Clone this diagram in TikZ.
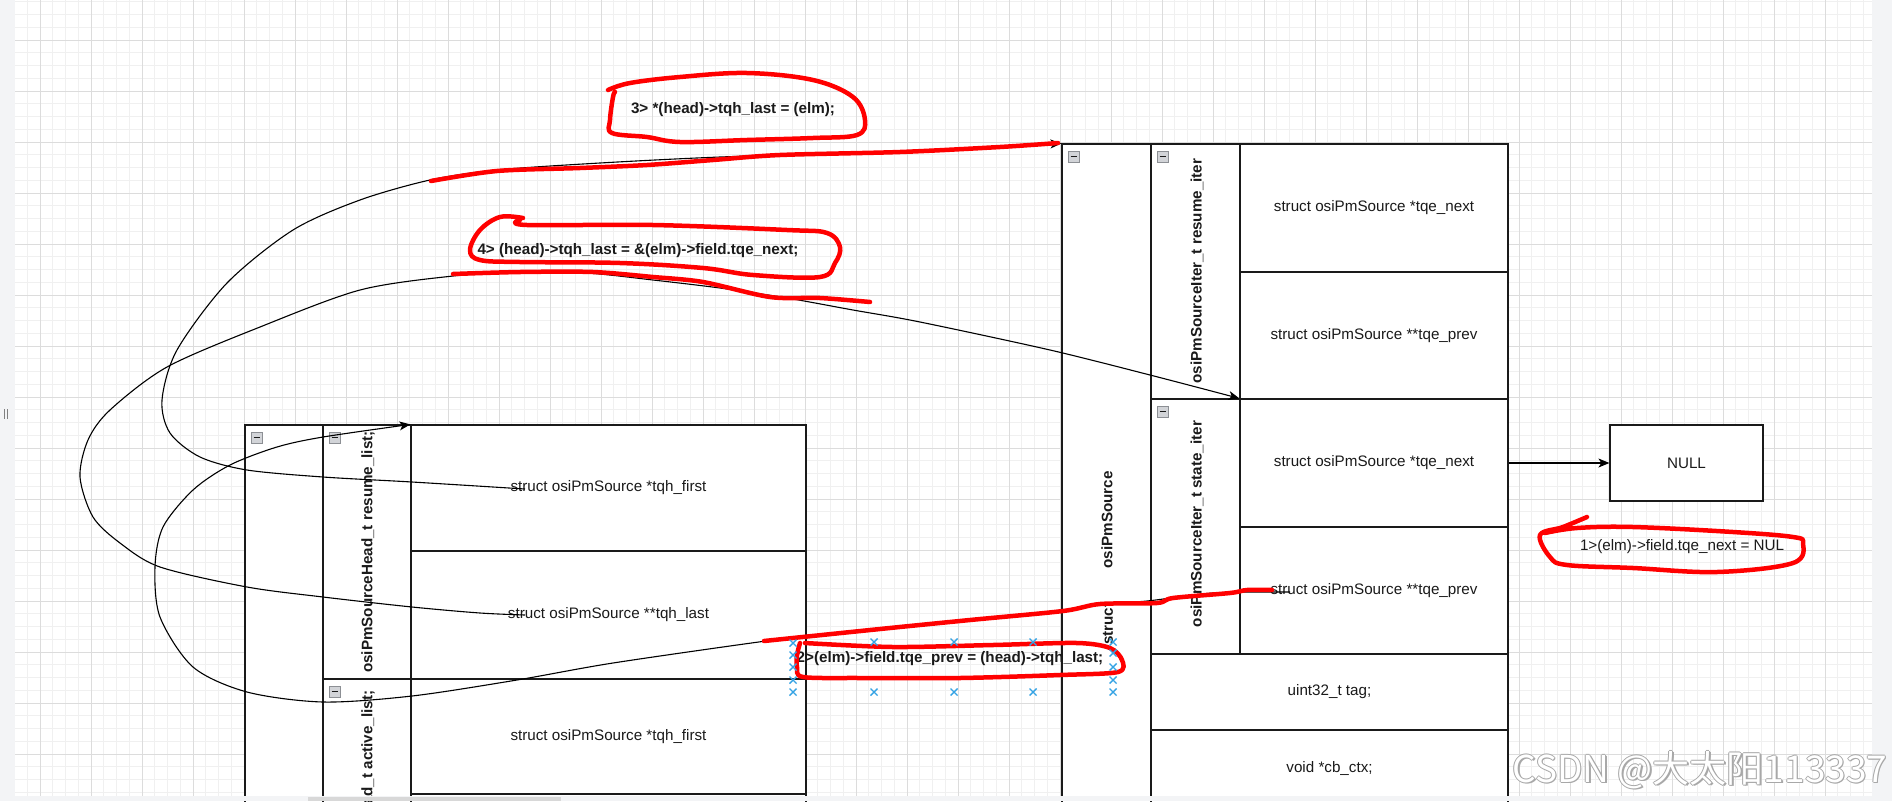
\documentclass[tikz,border=0pt]{standalone}
\usepackage{fontspec}
\setmainfont{Liberation Sans}
\newfontfamily\cjkfont{Noto Sans CJK SC}
\usetikzlibrary{arrows.meta}
\definecolor{gridminor}{HTML}{F0F0F0}
\definecolor{gridmajor}{HTML}{DCDCDC}
\definecolor{ink}{HTML}{1A1A1A}
\definecolor{selblue}{HTML}{35A3E4}
\definecolor{uibg}{HTML}{F3F4F6}
\definecolor{iconfill}{HTML}{D2D4D8}
\definecolor{iconline}{HTML}{8C8F94}
\definecolor{scrollbar}{HTML}{D8D8D8}
\definecolor{wmedge}{HTML}{A8A8A8}
\newcommand\dsz{\fontsize{15.2pt}{18pt}\selectfont}
\tikzset{
  cellbox/.style={draw=ink, fill=white, line width=1.2pt, inner sep=0pt, font=\dsz, text=ink},
  vlabel/.style={rotate=90, inner sep=0pt, font=\dsz\bfseries, text=ink},
  notetext/.style={inner sep=0pt, font=\dsz\bfseries, text=ink},
  plainnote/.style={inner sep=0pt, font=\dsz, text=ink},
  conn/.style={draw=black, line width=1.1pt, -{Stealth[length=11pt,width=9pt,inset=3pt]}},
  redmark/.style={draw=red, line width=4.5pt, line cap=round, line join=round},
  minusicon/.style={draw=iconline, fill=iconfill, line width=0.8pt, minimum size=11pt, inner sep=0pt,
     path picture={\draw[ink, line width=1.8pt] ([xshift=2.5pt]path picture bounding box.west) -- ([xshift=-2.5pt]path picture bounding box.east);}},
  selx/.pic={\draw[selblue, line width=1.4pt] (-3.5,-3.5) -- (3.5,3.5) (-3.5,3.5) -- (3.5,-3.5);},
  wmark/.style={inner sep=0pt, font=\cjkfont\fontsize{37pt}{40pt}\selectfont}
}
\begin{document}
\begin{tikzpicture}[x=1pt, y=-1pt]
\useasboundingbox (0,0) rectangle (1892,801);
\clip (0,0) rectangle (1892,801);
\fill[white] (0,0) rectangle (1892,801);
% grid
\foreach \i in {-1,...,143} \draw[gridminor, line width=0.8pt] ({40+12.75*\i},0) -- ({40+12.75*\i},796);
\foreach \j in {-3,...,59} \draw[gridminor, line width=0.8pt] (15,{40+12.75*\j}) -- (1872,{40+12.75*\j});
\foreach \i in {0,...,35} \draw[gridmajor, line width=0.9pt] ({40+51*\i},0) -- ({40+51*\i},796);
\foreach \j in {0,...,14} \draw[gridmajor, line width=0.9pt] (15,{40+51*\j}) -- (1872,{40+51*\j});

% ---------- left struct ----------
\node[cellbox, minimum width=561pt, minimum height=600pt] (lcont) at (525.5,725) {};
\node[cellbox, minimum width=483pt, minimum height=254pt] (lresume) at (564.5,552) {};
\node[cellbox, minimum width=395pt, minimum height=126pt] (lr1) at (608.5,488) {struct osiPmSource *tqh\_first};
\node[cellbox, minimum width=395pt, minimum height=128pt] (lr2) at (608.5,615) {struct osiPmSource **tqh\_last};
\node[cellbox, minimum width=483pt, minimum height=254pt] (lactive) at (564.5,806) {};
\node[cellbox, minimum width=395pt, minimum height=115pt] (la1) at (608.5,736.5) {struct osiPmSource *tqh\_first};
\node[cellbox, minimum width=395pt, minimum height=128pt] (la2) at (608.5,858) {};
\node[vlabel] (llbl1) at (368,552) {osiPmSourceHead\_t resume\_list;};
\node[vlabel] (llbl2) at (368,806) {osiPmSourceHead\_t active\_list;};
\node[minusicon] (li1) at (256.5,437.5) {};
\node[minusicon] (li2) at (334.5,437.5) {};
\node[minusicon] (li3) at (334.5,691.5) {};

% ---------- right struct ----------
\node[cellbox, minimum width=446pt, minimum height=760pt] (rcont) at (1285,524) {};
\node[cellbox, minimum width=357pt, minimum height=255pt] (rresume) at (1329.5,271.5) {};
\node[cellbox, minimum width=268pt, minimum height=128pt] (rr1) at (1374,208) {struct osiPmSource *tqe\_next};
\node[cellbox, minimum width=268pt, minimum height=127pt] (rr2) at (1374,335.5) {struct osiPmSource **tqe\_prev};
\node[cellbox, minimum width=357pt, minimum height=255pt] (rstate) at (1329.5,526.5) {};
\node[cellbox, minimum width=268pt, minimum height=128pt] (rs1) at (1374,463) {struct osiPmSource *tqe\_next};
\node[cellbox, minimum width=268pt, minimum height=127pt] (rs2) at (1374,590.5) {struct osiPmSource **tqe\_prev};
\node[cellbox, minimum width=357pt, minimum height=76pt] (rtag) at (1329.5,692) {uint32\_t tag;};
\node[cellbox, minimum width=357pt, minimum height=76pt] (rctx) at (1329.5,768) {void *cb\_ctx;};
\node[vlabel] (rlbl0) at (1107,520) {osiPmSource};
\node[vlabel, anchor=west] (rlbls) at (1108,645) {struct};
\node[vlabel] (rlbl1) at (1197,271) {osiPmSourceIter\_t resume\_iter};
\node[vlabel] (rlbl2) at (1197,524) {osiPmSourceIter\_t state\_iter};
\node[minusicon] (ri1) at (1073.5,156.5) {};
\node[minusicon] (ri2) at (1162.5,156.5) {};
\node[minusicon] (ri3) at (1162.5,411.5) {};

% NULL box
\node[cellbox, minimum width=153pt, minimum height=76pt] (nullbox) at (1686.5,463) {NULL};

% notes
\node[notetext] (n3) at (733,110) {3> *(head)->tqh\_last = (elm);};
\node[notetext] (n4) at (638,251) {4> (head)->tqh\_last = \&(elm)->field.tqe\_next;};
\node[notetext] (n2) at (950,659) {2>(elm)->field.tqe\_prev = (head)->tqh\_last;};
\node[plainnote] (n1) at (1682,547) {1>(elm)->field.tqe\_next = NUL};

% connector start points
\coordinate (a0) at (525,489);
\coordinate (b0) at (525,615);
\coordinate (c0) at (1290,592);

% connectors
\draw[conn] plot[smooth, tension=0.5] coordinates {(a0) (412,482) (323,477) (247,470) (200,457) (170,433) (162,400) (177,350) (227,283) (293,230) (360,200) (430,180) (497,170) (600,163) (720,157) (900,151) (rcont.north west)};
\draw[conn] plot[smooth, tension=0.5] coordinates {(b0) (480,613) (412,607) (323,597) (247,587) (160,567) (120,543) (93,517) (80,477) (88,440) (110,410) (167,367) (260,327) (360,290) (453,276) (520,272) (587,273) (653,280) (720,288) (787,298) (853,310) (920,322) (1050,350) (1150,375) (rs1.north west)};
\draw[conn] plot[smooth, tension=0.5] coordinates {(c0) (1213,593) (1147,601) (1100,604) (1063,610) (980,619) (880,630) (807,637) (766,641) (613,663) (517,680) (412,696) (323,702) (247,692) (193,667) (160,617) (155,567) (163,527) (193,490) (230,465) (277,447) (323,437) (lr1.north west)};
\draw[conn] (rs1.east) -- (nullbox.west);

% red hand marks
\draw[redmark] plot[smooth, tension=0.6] coordinates {(608,90) (630,83) (680,77) (747,73) (813,80) (853,97) (865,120) (857,135) (813,138) (747,140) (680,142) (647,137) (612,133) (610,120) (613,97) (615,92)};
\draw[redmark] plot[smooth, tension=0.5] coordinates {(431,181) (497,171) (580,168) (647,165) (713,160) (780,155) (900,152) (1000,147) (1058,143)};
\draw[redmark] plot[smooth, tension=0.6] coordinates {(523,218) (500,217) (480,230) (470,250) (480,260) (520,262) (620,263) (703,268) (753,275) (820,277) (835,263) (840,247) (827,233) (787,230) (653,225) (527,225) (520,220)};
\draw[redmark] plot[smooth, tension=0.5] coordinates {(453,274) (520,272) (593,272) (653,277) (703,282) (770,297) (820,298) (870,302)};
\draw[redmark] plot[smooth, tension=0.5] coordinates {(764,641) (880,629) (970,620) (1063,611) (1100,604) (1157,603) (1173,598) (1230,593) (1247,590) (1272,590)};
\draw[redmark] plot[smooth, tension=0.5] coordinates {(800,643) (797,655) (797,667) (803,677) (860,678) (960,678) (1060,675) (1118,672) (1122,660) (1110,648) (1077,643) (993,645) (893,647) (805,643)};
\draw[redmark] plot[smooth, tension=0.6] coordinates {(1587,517) (1563,527) (1540,535) (1550,557) (1567,565) (1633,568) (1717,572) (1793,563) (1803,543) (1793,537) (1733,532) (1633,527) (1577,528) (1545,533)};

% selection handles
\foreach \y in {643,655,667,680,692} \pic at (793,\y) {selx};
\foreach \y in {642,653,667,680,692} \pic at (1113,\y) {selx};
\foreach \x in {874,954,1033} { \pic at (\x,642) {selx}; \pic at (\x,692) {selx}; }

% UI margins
\fill[uibg] (0,0) rectangle (15,801);
\fill[uibg] (1872,0) rectangle (1892,801);
\fill[uibg] (0,796) rectangle (1892,801);
\fill[scrollbar] (308,797) rectangle (561,801);
\draw[gray, line width=0.8pt] (4,409) -- (4,419) (7.5,409) -- (7.5,419);

% watermark
\foreach \dx/\dy in {-1/0,1/0,0/-1,0/1,1.2/1.2}
  \node[wmark, text=wmedge] at ({1700+\dx},{770+\dy}) {CSDN @大太阳113337};
\node[wmark, text=white] (wm) at (1700,770) {CSDN @大太阳113337};
\end{tikzpicture}
\end{document}
